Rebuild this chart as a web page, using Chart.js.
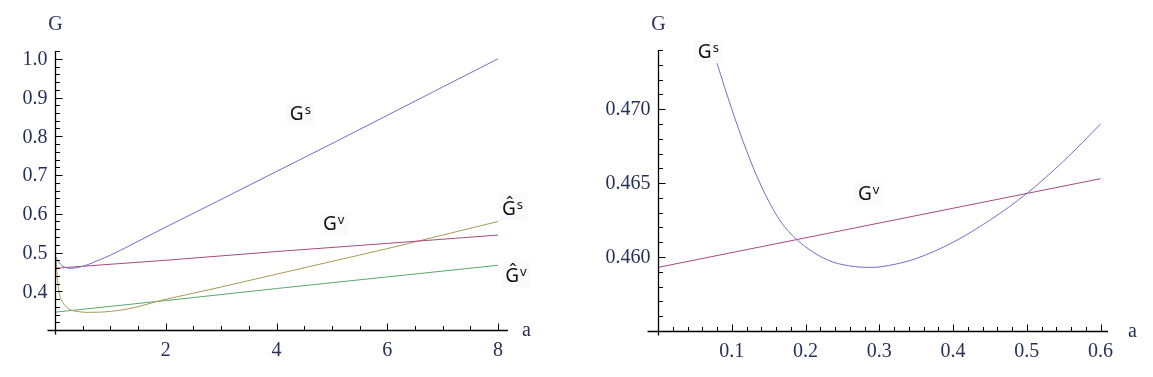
<!DOCTYPE html>
<html>
<head>
<meta charset="utf-8">
<script src="https://cdn.jsdelivr.net/npm/chart.js@4.4.1/dist/chart.umd.min.js"></script>
<style>
  html, body { margin: 0; padding: 0; background: #fff; }
  #wrap { position: relative; width: 1153px; height: 377px; }
  canvas { position: absolute; top: 0; }
</style>
</head>
<body>
<div id="wrap">
  <canvas id="left" width="577" height="377" style="left:0"></canvas>
  <canvas id="right" width="576" height="377" style="left:577px"></canvas>
</div>
<script>
// ---- left panel: a from 0 to 8 ----
const gsA = [0.02, 0.05, 0.08, 0.12, 0.16, 0.2, 0.29, 0.4, 0.5, 0.6, 0.8, 1, 1.5, 2, 3, 4, 5, 6, 7, 8];
const gsG = [0.488, 0.479, 0.4731, 0.4672, 0.4632, 0.4607, 0.4593, 0.461, 0.4643, 0.469, 0.481, 0.493, 0.529, 0.5655, 0.637, 0.709, 0.781, 0.854, 0.927, 1.0];

const gvA = [0, 2, 4, 6, 8];
const gvG = [0.4593, 0.480, 0.5025, 0.5235, 0.545];

const hsA = [0.02, 0.04, 0.07, 0.1, 0.15, 0.2, 0.3, 0.45, 0.6, 0.8, 1.0, 1.3, 1.6, 1.9, 2.5, 3, 4, 5, 6, 7, 8];
const hsG = [0.48, 0.44, 0.40, 0.383, 0.369, 0.360, 0.351, 0.347, 0.3455, 0.346, 0.348, 0.354, 0.364, 0.376, 0.395, 0.411, 0.444, 0.477, 0.510, 0.545, 0.58];

const hvA = [0, 2, 4, 6, 8];
const hvG = [0.346, 0.376, 0.407, 0.437, 0.467];

const leftXTicks = [2, 4, 6, 8];
const leftYTicks = [0.4, 0.5, 0.6, 0.7, 0.8, 0.9, 1.0];

// ---- right panel: zoom on the minimum ----
const zoomA = [0.08, 0.1, 0.12, 0.14, 0.165, 0.19, 0.23, 0.26, 0.29, 0.32, 0.35, 0.4, 0.45, 0.5, 0.55, 0.6];
const zoomGs = [0.4731, 0.47, 0.4672, 0.4648, 0.4625, 0.4611, 0.4598, 0.4594, 0.4593, 0.4595, 0.4599, 0.461, 0.4625, 0.4643, 0.4665, 0.469];

const zoomGvA = [0, 0.6];
const zoomGv = [0.4593, 0.4653];

const rightXTicks = [0.1, 0.2, 0.3, 0.4, 0.5, 0.6];
const rightYTicks = [0.460, 0.465, 0.470];

const BLUE = '#6f6fc4';
const MAGENTA = '#a8497e';
const OLIVE = '#a89856';
const GREEN = '#5aa86c';

const pts = (xs, ys) => xs.map((v, i) => ({x: v, y: ys[i]}));

function line(data, color) {
    return {
        data: data,
        borderColor: color,
        borderWidth: 1,
        pointRadius: 0,
        cubicInterpolationMode: 'monotone',
        fill: false,
    };
}

// mathematica-like axes: cross at the origin, ticks pointing inward
const mathAxes = {
    id: 'mathAxes',
    afterDatasetsDraw(chart, args, o) {
        const {ctx, chartArea: ca, scales: {x, y}} = chart;
        const bx = Math.round(ca.left) + 0.5;
        const by = Math.round(ca.bottom) + 0.5;
        ctx.save();
        ctx.strokeStyle = '#000';
        ctx.lineWidth = 1.3;
        ctx.beginPath();
        ctx.moveTo(bx - o.overX, by);
        ctx.lineTo(ca.right, by);
        ctx.moveTo(bx, ca.top);
        ctx.lineTo(bx, by + 4);
        ctx.stroke();

        ctx.lineWidth = 1;
        ctx.beginPath();
        for (let i = 1; ; i++) {
            const v = x.min + i * o.xMinor;
            if (v > o.xTicks[o.xTicks.length - 1] + 1e-9) break;
            const major = o.xTicks.some(t => Math.abs(t - v) < 1e-9);
            const px = Math.round(x.getPixelForValue(v)) + 0.5;
            ctx.moveTo(px, by);
            ctx.lineTo(px, by - (major ? 7 : 4.5));
        }
        for (let i = 1; ; i++) {
            const v = y.min + i * o.yMinor;
            if (v > y.max + 1e-9) break;
            const major = o.yTicks.some(t => Math.abs(t - v) < 1e-9);
            const py = Math.round(y.getPixelForValue(v)) + 0.5;
            ctx.moveTo(bx, py);
            ctx.lineTo(bx + (major ? 7 : 4.5), py);
        }
        ctx.stroke();

        ctx.fillStyle = '#27305a';
        ctx.font = '20px "Liberation Serif"';
        ctx.textAlign = 'center';
        ctx.textBaseline = 'top';
        o.xTicks.forEach(t => ctx.fillText(t.toFixed(o.xDec), x.getPixelForValue(t), by + 10));
        ctx.textAlign = 'right';
        ctx.textBaseline = 'middle';
        o.yTicks.forEach(t => ctx.fillText(t.toFixed(o.yDec), bx - 8, y.getPixelForValue(t) + 1));

        ctx.textAlign = 'center';
        ctx.fillText('G', bx, 25);
        ctx.textAlign = 'left';
        ctx.fillText('a', ca.right + o.aGap, by);

        // curve labels
        ctx.textBaseline = 'alphabetic';
        o.labels.forEach(l => {
            const lx = x.getPixelForValue(l.a);
            const ly = y.getPixelForValue(l.g);
            ctx.font = '19px "Noto Sans"';
            const w1 = ctx.measureText(l.base).width;
            ctx.font = '13px "Noto Sans"';
            const w2 = ctx.measureText(l.sup).width;
            ctx.fillStyle = 'rgba(245,245,245,0.5)';
            ctx.fillRect(lx - 3, ly - (l.hat ? 22 : 17), w1 + w2 + 8, l.hat ? 27 : 22);
            ctx.fillStyle = '#111';
            ctx.font = '19px "Noto Sans"';
            ctx.fillText(l.base, lx, ly);
            ctx.font = '13px "Noto Sans"';
            ctx.fillText(l.sup, lx + w1 + 1, ly - 6);
        });
        ctx.restore();
    }
};

function makeChart(id, datasets, xr, yr, pad, axes) {
    return new Chart(document.getElementById(id).getContext('2d'), {
        type: 'line',
        data: {datasets: datasets},
        options: {
            responsive: false,
            animation: false,
            events: [],
            layout: {padding: pad},
            scales: {
                x: {type: 'linear', min: xr[0], max: xr[1], display: false},
                y: {type: 'linear', min: yr[0], max: yr[1], display: false},
            },
            plugins: {legend: {display: false}, tooltip: {enabled: false}, mathAxes: axes},
        },
        plugins: [mathAxes],
    });
}

makeChart('left',
    [line(pts(gsA, gsG), BLUE), line(pts(gvA, gvG), MAGENTA), line(pts(hsA, hsG), OLIVE), line(pts(hvA, hvG), GREEN)],
    [0, 8.18], [0.3, 1.02],
    {left: 55, right: 69, top: 51, bottom: 47},
    {
        xTicks: leftXTicks, yTicks: leftYTicks, xMinor: 0.5, yMinor: 0.02, xDec: 0, yDec: 1, overX: 8, aGap: 14,
        labels: [
            {base: 'G', sup: 's', a: 4.24, g: 0.841},
            {base: 'G', sup: 'v', a: 4.84, g: 0.557},
            {base: 'Ĝ', sup: 's', a: 8.07, g: 0.596, hat: true},
            {base: 'Ĝ', sup: 'v', a: 8.13, g: 0.423, hat: true},
        ],
    });

makeChart('right',
    [line(pts(zoomA, zoomGs), BLUE), line(pts(zoomGvA, zoomGv), MAGENTA)],
    [0, 0.61], [0.455, 0.474],
    {left: 81, right: 45, top: 50, bottom: 46},
    {
        xTicks: rightXTicks, yTicks: rightYTicks, xMinor: 0.02, yMinor: 0.001, xDec: 1, yDec: 3, overX: 11, aGap: 20,
        labels: [
            {base: 'G', sup: 's', a: 0.054, g: 0.47345},
            {base: 'G', sup: 'v', a: 0.271, g: 0.46385},
        ],
    });
</script>
</body>
</html>
